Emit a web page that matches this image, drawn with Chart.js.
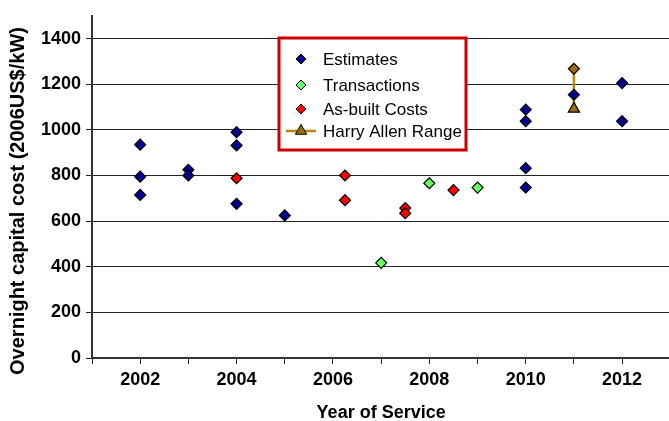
<!DOCTYPE html>
<html>
<head>
<meta charset="utf-8">
<script src="https://cdn.jsdelivr.net/npm/chart.js@4/dist/chart.umd.min.js"></script>
<style>
  html, body { margin: 0; padding: 0; background: #fff; overflow: hidden; }
  /* canvas is a bit wider than the frame: chart.js keeps a few px of right padding
     that the excel plot area does not have, so we let it fall off the edge */
  #wrap { width: 669px; height: 421px; overflow: hidden; }
</style>
</head>
<body>
<div id="wrap"><canvas id="chart" width="678" height="421"></canvas></div>
<script>
// values (year of service, 2006US$/kW)
const estimateYears = [2002, 2002, 2002, 2003, 2003, 2004, 2004, 2004, 2005, 2010, 2010, 2010, 2010, 2011, 2012, 2012];
const estimateCosts = [935, 795, 715, 825, 800, 990, 932, 676, 625, 1089, 1038, 832, 747, 1154, 1205, 1038];

const transactionYears = [2007, 2008, 2009];
const transactionCosts = [417, 766, 747];

const asBuiltYears = [2004, 2006.25, 2006.25, 2007.5, 2007.5, 2008.5];
const asBuiltCosts = [788, 800, 692, 657, 635, 736];

// low end first so the legend picks up the triangle
const harryAllenYears = [2011, 2011];
const harryAllenCosts = [1092, 1268];

const yearTicks = [2002, 2004, 2006, 2008, 2010, 2012];
const costTicks = [0, 200, 400, 600, 800, 1000, 1200, 1400];

const seriesNames = ["Estimates", "Transactions", "As-built Costs", "Harry Allen Range"];
const yTitle = "Overnight capital cost (2006US$/kW)";

function toPoints(xs, ys) {
    return xs.map((x, i) => ({ x: x, y: ys[i] }));
}

// draws a marker the same way chart.js does for rectRot / triangle
function marker(ctx, style, x, y, r) {
    ctx.beginPath();
    if (style === "triangle") {
        let a = 0;
        ctx.moveTo(x + Math.sin(a) * r, y - Math.cos(a) * r);
        a += Math.PI * 2 / 3;
        ctx.lineTo(x + Math.sin(a) * r, y - Math.cos(a) * r);
        a += Math.PI * 2 / 3;
        ctx.lineTo(x + Math.sin(a) * r, y - Math.cos(a) * r);
    } else {
        ctx.moveTo(x, y - r);
        ctx.lineTo(x + r, y);
        ctx.lineTo(x, y + r);
        ctx.lineTo(x - r, y);
    }
    ctx.closePath();
    ctx.fill();
    ctx.stroke();
}

// boxed legend sitting inside the plot, like the excel one
const boxLegend = {
    id: "boxLegend",
    afterDraw(chart, args, opts) {
        const ctx = chart.ctx;
        ctx.save();
        ctx.fillStyle = "#fff";
        ctx.fillRect(opts.x, opts.y, opts.w, opts.h);
        ctx.strokeStyle = opts.borderColor;
        ctx.lineWidth = opts.borderWidth;
        ctx.strokeRect(opts.x, opts.y, opts.w, opts.h);

        ctx.font = opts.font;
        ctx.textBaseline = "middle";
        ctx.textAlign = "left";

        chart.data.datasets.forEach((ds, i) => {
            const cy = opts.rows[i];
            const style = Array.isArray(ds.pointStyle) ? ds.pointStyle[0] : ds.pointStyle;
            const fill = Array.isArray(ds.pointBackgroundColor) ? ds.pointBackgroundColor[0] : ds.pointBackgroundColor;
            if (ds.showLine) {
                ctx.strokeStyle = ds.borderColor;
                ctx.lineWidth = ds.borderWidth;
                ctx.beginPath();
                ctx.moveTo(opts.markerX - 15, cy);
                ctx.lineTo(opts.markerX + 15, cy);
                ctx.stroke();
            }
            ctx.fillStyle = fill;
            ctx.strokeStyle = "#000";
            ctx.lineWidth = 1;
            marker(ctx, style, opts.markerX, cy, style === "triangle" ? 6.5 : 5);
            ctx.fillStyle = "#000";
            ctx.fillText(ds.label, opts.textX, cy + 1);
        });
        ctx.restore();
    },
};

// y title drawn by hand: excel centres it a bit lower than the plot area
const sideTitle = {
    id: "sideTitle",
    afterDraw(chart, args, opts) {
        const ctx = chart.ctx;
        ctx.save();
        ctx.translate(opts.x, opts.y);
        ctx.rotate(-Math.PI / 2);
        ctx.font = opts.font;
        ctx.fillStyle = "#000";
        ctx.textAlign = "center";
        ctx.textBaseline = "middle";
        ctx.fillText(opts.text, 0, 0);
        ctx.restore();
    },
};

const ctx = document.getElementById("chart").getContext("2d");

new Chart(ctx, {
    type: "scatter",
    data: {
        datasets: [
            {
                label: seriesNames[0],
                data: toPoints(estimateYears, estimateCosts),
                pointStyle: "rectRot",
                pointRadius: 5.5,
                pointBackgroundColor: "#000090",
                pointBorderColor: "#000",
                pointBorderWidth: 1.2,
            },
            {
                label: seriesNames[1],
                data: toPoints(transactionYears, transactionCosts),
                pointStyle: "rectRot",
                pointRadius: 5.5,
                pointBackgroundColor: "#66ff66",
                pointBorderColor: "#000",
                pointBorderWidth: 1.2,
            },
            {
                label: seriesNames[2],
                data: toPoints(asBuiltYears, asBuiltCosts),
                pointStyle: "rectRot",
                pointRadius: 5.5,
                pointBackgroundColor: "#ff0000",
                pointBorderColor: "#000",
                pointBorderWidth: 1.2,
            },
            {
                label: seriesNames[3],
                data: toPoints(harryAllenYears, harryAllenCosts),
                showLine: true,
                borderColor: "#b8860b",
                borderWidth: 2.5,
                pointStyle: ["triangle", "rectRot"],
                pointRadius: [6.5, 5.5],
                pointBackgroundColor: ["#a06c08", "#a06c08"],
                pointBorderColor: "#000",
                pointBorderWidth: 1.2,
            },
        ],
    },
    options: {
        responsive: false,
        animation: false,
        layout: {
            padding: { top: 14, right: 0, left: 0, bottom: 0 },
        },
        plugins: {
            legend: { display: false },
            tooltip: { enabled: false },
            boxLegend: {
                x: 279,
                y: 38,
                w: 187,
                h: 112,
                borderColor: "#cc0000",
                borderWidth: 3,
                font: "17px 'Liberation Sans', Arial, sans-serif",
                markerX: 301,
                textX: 323,
                rows: [59, 85, 109, 131],
            },
            sideTitle: {
                text: yTitle,
                x: 18,
                y: 201,
                font: "bold 20px 'Liberation Sans', Arial, sans-serif",
            },
        },
        scales: {
            x: {
                type: "linear",
                min: 2001,
                max: 2013,
                afterFit: (scale) => {
                    scale.height = 63;
                },
                border: { color: "#333", width: 2 },
                grid: {
                    drawOnChartArea: false,
                    drawTicks: true,
                    tickLength: 6,
                    color: "#222",
                },
                ticks: {
                    stepSize: 1,
                    padding: 5,
                    maxRotation: 0,
                    autoSkip: false,
                    color: "#000",
                    font: { family: "'Liberation Sans', Arial", size: 18, weight: "bold" },
                    callback: (v) => (yearTicks.includes(v) ? String(v) : ""),
                },
                title: {
                    display: true,
                    text: "Year of Service",
                    color: "#000",
                    padding: { top: 4, bottom: -3 },
                    font: { family: "'Liberation Sans', Arial", size: 18, weight: "bold" },
                },
            },
            y: {
                min: 0,
                max: 1500,
                afterFit: (scale) => {
                    scale.width = 92;
                },
                border: { color: "#333", width: 2 },
                grid: {
                    color: (c) => (c.tick && c.tick.value === 1500 ? "#999" : "#222"),
                    tickColor: "#222",
                    tickLength: 6,
                    lineWidth: 1,
                },
                ticks: {
                    stepSize: 100,
                    padding: 5,
                    color: "#000",
                    font: { family: "'Liberation Sans', Arial", size: 18, weight: "bold" },
                    callback: (v) => (costTicks.includes(v) ? String(v) : ""),
                },
            },
        },
    },
    plugins: [boxLegend, sideTitle],
});
</script>
</body>
</html>
